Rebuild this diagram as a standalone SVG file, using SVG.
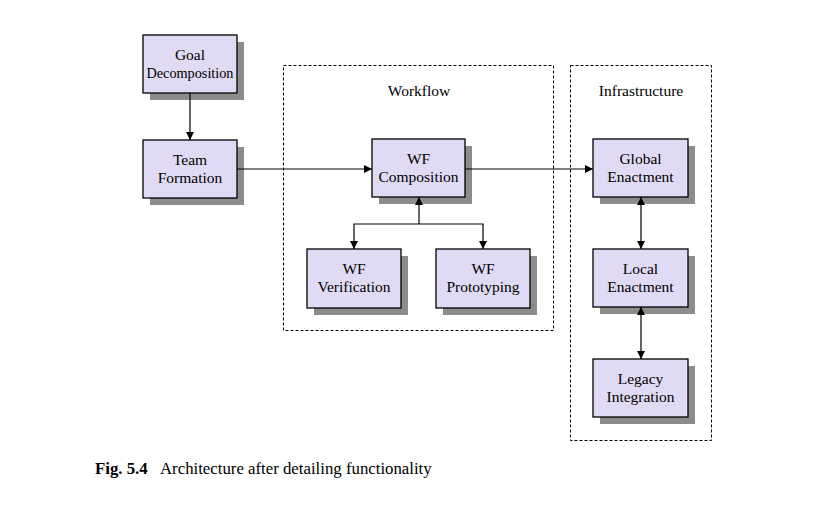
<svg xmlns="http://www.w3.org/2000/svg" width="817" height="517" viewBox="0 0 817 517">
<defs>
<style>
.box{fill:#e0daf4;stroke:#000;stroke-width:1.3}
.sh{fill:#8c8c8c}
.t{font-family:"Liberation Serif","Times New Roman",serif;font-size:15.5px;fill:#000;text-anchor:middle}
.grp{fill:none;stroke:#000;stroke-width:1;stroke-dasharray:3 2}
.c{fill:none;stroke:#000;stroke-width:1.2}
</style>
<marker id="ah" viewBox="0 0 10 10" refX="10" refY="5" markerWidth="8" markerHeight="8" markerUnits="userSpaceOnUse" orient="auto-start-reverse">
<path d="M0,0 L10,5 L0,10 z" fill="#000"/>
</marker>
</defs>
<rect width="817" height="517" fill="#fff"/>

<g id="workflow-group">
<rect class="grp" x="283.5" y="65.5" width="270" height="265"/>
<text class="t" x="419" y="96">Workflow</text>
</g>
<g id="infrastructure-group">
<rect class="grp" x="570.5" y="65.5" width="141" height="375"/>
<text class="t" x="641" y="96">Infrastructure</text>
</g>

<g id="goal-decomposition">
<rect class="sh" x="150" y="42" width="94" height="58"/>
<rect class="box" x="143" y="35" width="94" height="58"/>
<text class="t" x="190" y="60">Goal</text>
<text class="t" x="190" y="78" textLength="87" lengthAdjust="spacingAndGlyphs">Decomposition</text>
</g>
<g id="team-formation">
<rect class="sh" x="150" y="147" width="94" height="58"/>
<rect class="box" x="143" y="140" width="94" height="58"/>
<text class="t" x="190" y="165">Team</text>
<text class="t" x="190" y="183">Formation</text>
</g>
<g id="wf-composition">
<rect class="sh" x="379" y="146" width="93" height="58"/>
<rect class="box" x="372" y="139" width="93" height="58"/>
<text class="t" x="418.5" y="164">WF</text>
<text class="t" x="418.5" y="182">Composition</text>
</g>
<g id="wf-verification">
<rect class="sh" x="314" y="256" width="94" height="59"/>
<rect class="box" x="307" y="249" width="94" height="59"/>
<text class="t" x="354" y="274">WF</text>
<text class="t" x="354" y="292">Verification</text>
</g>
<g id="wf-prototyping">
<rect class="sh" x="443" y="256" width="94" height="59"/>
<rect class="box" x="436" y="249" width="94" height="59"/>
<text class="t" x="483" y="274">WF</text>
<text class="t" x="483" y="292">Prototyping</text>
</g>
<g id="global-enactment">
<rect class="sh" x="600" y="146" width="95" height="58"/>
<rect class="box" x="593" y="139" width="95" height="58"/>
<text class="t" x="640.5" y="164">Global</text>
<text class="t" x="640.5" y="182">Enactment</text>
</g>
<g id="local-enactment">
<rect class="sh" x="600" y="256" width="95" height="58"/>
<rect class="box" x="593" y="249" width="95" height="58"/>
<text class="t" x="640.5" y="274">Local</text>
<text class="t" x="640.5" y="292">Enactment</text>
</g>
<g id="legacy-integration">
<rect class="sh" x="600" y="366" width="95" height="58"/>
<rect class="box" x="593" y="359" width="95" height="58"/>
<text class="t" x="640.5" y="384">Legacy</text>
<text class="t" x="640.5" y="402">Integration</text>
</g>

<g id="connectors">
<line class="c" x1="190" y1="93" x2="190" y2="140" marker-end="url(#ah)"/>
<line class="c" x1="237" y1="169" x2="372" y2="169" marker-end="url(#ah)"/>
<line class="c" x1="465" y1="169" x2="593" y2="169" marker-end="url(#ah)"/>
<line class="c" x1="419" y1="224" x2="419" y2="197" marker-end="url(#ah)"/>
<polyline class="c" points="354,249 354,224 483,224 483,249" marker-start="url(#ah)" marker-end="url(#ah)"/>
<line class="c" x1="641" y1="197" x2="641" y2="249" marker-start="url(#ah)" marker-end="url(#ah)"/>
<line class="c" x1="641" y1="307" x2="641" y2="359" marker-start="url(#ah)" marker-end="url(#ah)"/>
</g>

<g id="caption">
<text x="95" y="474" font-family="'Liberation Serif','Times New Roman',serif" font-size="16.8px"><tspan font-weight="bold">Fig. 5.4</tspan><tspan x="160">Architecture after detailing functionality</tspan></text>
</g>
</svg>
